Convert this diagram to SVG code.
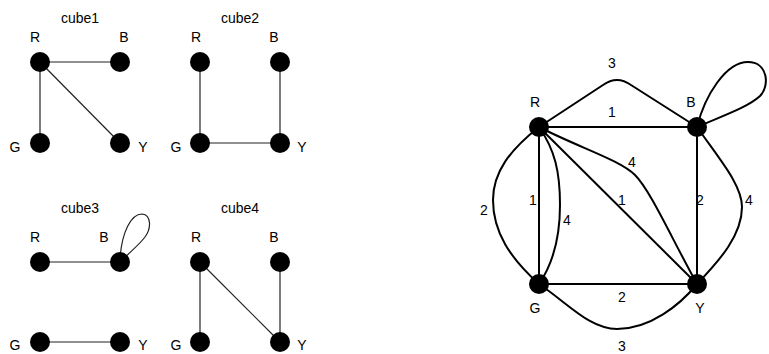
<svg xmlns="http://www.w3.org/2000/svg" width="769" height="354" viewBox="0 0 769 354">
<style>
text{font-family:"Liberation Sans",Arial,sans-serif;font-size:14px;fill:#000;text-anchor:middle}
.s{stroke:#222;stroke-width:1.2;fill:none}
.b{stroke:#000;stroke-width:2;fill:none}
.n{fill:#000}
</style>
<rect width="769" height="354" fill="#fff"/>
<g id="titles">
<text x="80" y="23">cube1</text>
<text x="240" y="23">cube2</text>
<text x="80" y="213">cube3</text>
<text x="240" y="213">cube4</text>
</g>
<g id="connectors">
<line class="s" x1="40" y1="62" x2="120" y2="62"/>
<line class="s" x1="40" y1="62" x2="40" y2="143"/>
<line class="s" x1="40" y1="62" x2="120" y2="143"/>
<line class="s" x1="200" y1="62" x2="200" y2="143"/>
<line class="s" x1="200" y1="143" x2="280" y2="143"/>
<line class="s" x1="280" y1="62" x2="280" y2="143"/>
<line class="s" x1="40" y1="262" x2="120" y2="262"/>
<path class="s" d="M120,258 C122,232 131,214 142,214 C152,215 151,229 145,237 C139,245 130,252 120,262"/>
<line class="s" x1="40" y1="342" x2="120" y2="342"/>
<line class="s" x1="200" y1="262" x2="200" y2="342"/>
<line class="s" x1="200" y1="262" x2="280" y2="342"/>
<line class="s" x1="280" y1="262" x2="280" y2="342"/>
<line class="b" x1="539" y1="127" x2="697" y2="127"/>
<path class="b" d="M539,127 L603,85 Q617,75 631,85 L697,127"/>
<path class="b" d="M697,127 C705,95 726,62 748,62 C768,62 770,86 760,96 C748,107 725,115 697,127"/>
<line class="b" x1="539" y1="127" x2="539" y2="284"/>
<path class="b" d="M539,127 C510,150 493,172 493,200 C493,232 510,258 539,284"/>
<path class="b" d="M539,127 C555,150 560,172 560,205 C560,240 552,265 539,284"/>
<line class="b" x1="539" y1="127" x2="697" y2="284"/>
<path class="b" d="M539,127 C580,148 620,160 635,175 C650,190 670,235 697,284"/>
<line class="b" x1="697" y1="127" x2="697" y2="284"/>
<path class="b" d="M697,127 C720,160 742,185 742,207 C742,235 720,260 697,284"/>
<line class="b" x1="539" y1="284" x2="697" y2="284"/>
<path class="b" d="M539,284 C570,305 590,329 617,329 C650,329 680,305 697,284"/>
</g>
<g id="edge-labels">
<text x="612" y="68">3</text>
<text x="612" y="117">1</text>
<text x="632" y="167">4</text>
<text x="484" y="215">2</text>
<text x="533" y="205">1</text>
<text x="567" y="225">4</text>
<text x="622" y="205">1</text>
<text x="700" y="205">2</text>
<text x="749" y="205">4</text>
<text x="622" y="302">2</text>
<text x="622" y="351">3</text>
</g>
<g id="c1-R"><circle class="n" cx="40" cy="62" r="10"/><text x="35" y="42">R</text></g>
<g id="c1-B"><circle class="n" cx="120" cy="62" r="10"/><text x="124" y="42">B</text></g>
<g id="c1-G"><circle class="n" cx="40" cy="143" r="10"/><text x="15" y="152">G</text></g>
<g id="c1-Y"><circle class="n" cx="120" cy="143" r="10"/><text x="143" y="152">Y</text></g>
<g id="c2-R"><circle class="n" cx="200" cy="62" r="10"/><text x="196" y="42">R</text></g>
<g id="c2-B"><circle class="n" cx="280" cy="62" r="10"/><text x="274" y="42">B</text></g>
<g id="c2-G"><circle class="n" cx="200" cy="143" r="10"/><text x="176" y="152">G</text></g>
<g id="c2-Y"><circle class="n" cx="280" cy="143" r="10"/><text x="302" y="152">Y</text></g>
<g id="c3-R"><circle class="n" cx="40" cy="262" r="10"/><text x="35" y="242">R</text></g>
<g id="c3-B"><circle class="n" cx="120" cy="262" r="10"/><text x="104" y="242">B</text></g>
<g id="c3-G"><circle class="n" cx="40" cy="342" r="10"/><text x="15" y="350">G</text></g>
<g id="c3-Y"><circle class="n" cx="120" cy="342" r="10"/><text x="143" y="350">Y</text></g>
<g id="c4-R"><circle class="n" cx="200" cy="262" r="10"/><text x="196" y="242">R</text></g>
<g id="c4-B"><circle class="n" cx="280" cy="262" r="10"/><text x="274" y="242">B</text></g>
<g id="c4-G"><circle class="n" cx="200" cy="342" r="10"/><text x="176" y="350">G</text></g>
<g id="c4-Y"><circle class="n" cx="280" cy="342" r="10"/><text x="302" y="350">Y</text></g>
<g id="R"><circle class="n" cx="539" cy="127" r="10"/><text x="535" y="107">R</text></g>
<g id="B"><circle class="n" cx="697" cy="127" r="10"/><text x="691" y="107">B</text></g>
<g id="G"><circle class="n" cx="539" cy="284" r="10"/><text x="535" y="313">G</text></g>
<g id="Y"><circle class="n" cx="697" cy="284" r="10"/><text x="700" y="313">Y</text></g>
</svg>
